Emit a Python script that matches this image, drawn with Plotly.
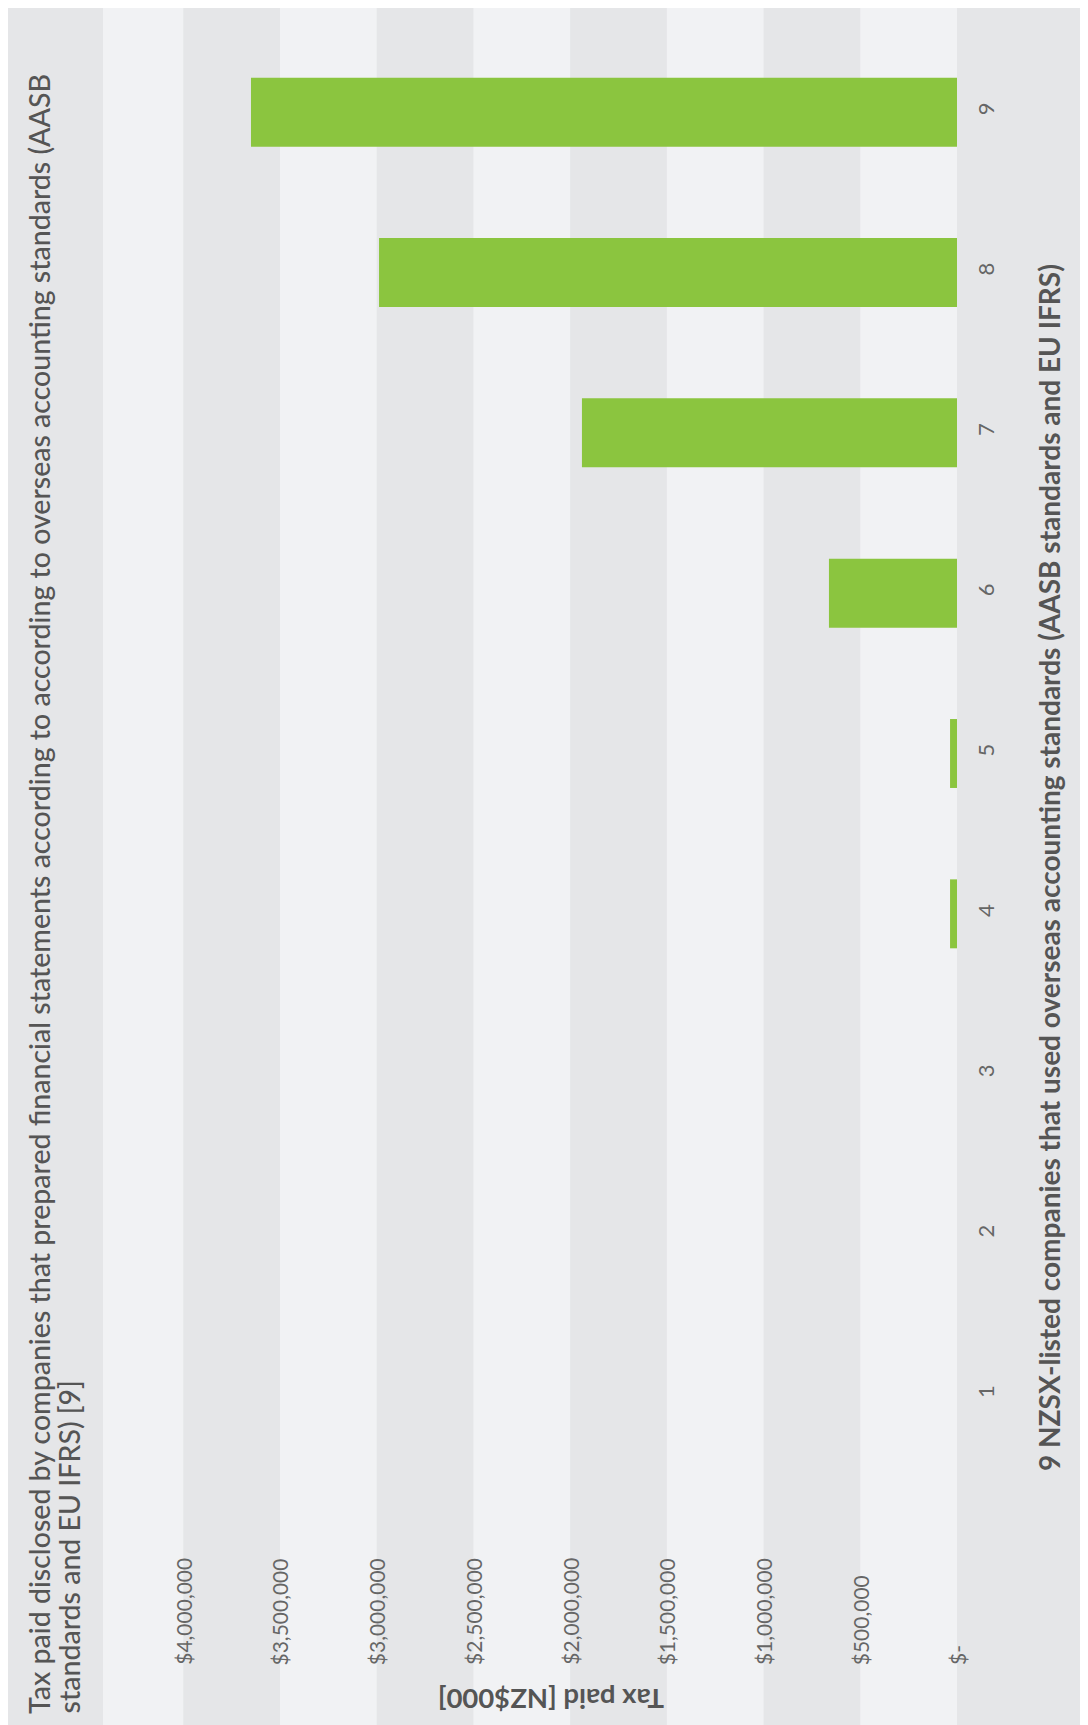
import plotly.graph_objects as go

# ---------------- data ----------------
COMPANIES = ["1", "2", "3", "4", "5", "6", "7", "8", "9"]
TAX_PAID = [0, 0, 0, 36000, 36000, 662000, 1939000, 2988000, 3650000]
TICK_VALUES = [0, 500000, 1000000, 1500000, 2000000, 2500000, 3000000, 3500000, 4000000]
TICK_LABELS = ["$-", "$500,000", "$1,000,000", "$1,500,000", "$2,000,000",
               "$2,500,000", "$3,000,000", "$3,500,000", "$4,000,000"]
X_MAX = 4415000

TITLE_LINE1 = ("Tax paid disclosed by companies that prepared financial statements according to "
               "according to overseas accounting standards (AASB")
TITLE_LINE2 = "standards and EU IFRS) [9]"
CAT_TITLE = "9 NZSX-listed companies that used overseas accounting standards (AASB standards and EU IFRS)"
VAL_TITLE = "Tax paid [NZ$000]"

# ---------------- layout geometry (screen pixels) ----------------
SCREEN_W, SCREEN_H = 1088, 1725
OFF = 8                      # default page body margin
W, H = SCREEN_W - OFF, SCREEN_H - OFF
L, R, T, B = 103, 957, 32, 1475   # plot area edges in screen pixels

def px_x(px):
    return (px - L) / (R - L)

def px_y(py):
    return (B - py) / (B - T)

DARK = "#e5e6e8"
LIGHT = "#f1f2f4"
GREEN = "#8bc53f"
FONT = "Lato"

fig = go.Figure()
fig.add_trace(go.Bar(
    y=COMPANIES, x=TAX_PAID, orientation="h",
    marker=dict(color=GREEN, line=dict(width=0)),
    hoverinfo="skip",
))

shapes = [dict(type="rect", xref="paper", yref="paper",
               x0=px_x(0), x1=px_x(SCREEN_W + 10), y0=px_y(SCREEN_H + 10), y1=px_y(0),
               fillcolor=DARK, line=dict(width=0), layer="below")]
edges = TICK_VALUES + [X_MAX]
for i in range(0, len(edges) - 1, 2):
    shapes.append(dict(type="rect", xref="x", yref="paper",
                       x0=edges[i], x1=edges[i + 1], y0=px_y(SCREEN_H + 10), y1=px_y(0),
                       fillcolor=LIGHT, line=dict(width=0), layer="below"))

annotations = []
for v, lab in zip(TICK_VALUES, TICK_LABELS):
    annotations.append(dict(x=v, xref="x", y=px_y(1667), yref="paper",
                            text=lab, showarrow=False, textangle=-90,
                            xanchor="center", yanchor="bottom",
                            font=dict(family=FONT, size=21, color="#666666")))

title_font = dict(family=FONT, size=28.5, color="#555555", weight=500)
annotations.append(dict(x=px_x(39), xref="paper", y=px_y(1716), yref="paper",
                        text=TITLE_LINE1, showarrow=False, textangle=-90,
                        xanchor="center", yanchor="bottom", font=title_font))
annotations.append(dict(x=px_x(69), xref="paper", y=px_y(1716), yref="paper",
                        text=TITLE_LINE2, showarrow=False, textangle=-90,
                        xanchor="center", yanchor="bottom", font=title_font))
annotations.append(dict(x=px_x(1049), xref="paper", y=px_y(868), yref="paper",
                        text=CAT_TITLE, showarrow=False, textangle=-90,
                        xanchor="center", yanchor="middle",
                        font=dict(family=FONT, size=28, color="#555555", weight=700)))
annotations.append(dict(x=px_x(551), xref="paper", y=px_y(1700), yref="paper",
                        text=VAL_TITLE, showarrow=False, textangle=180,
                        xanchor="center", yanchor="middle",
                        font=dict(family=FONT, size=27.5, color="#555555", weight=700)))

fig.update_layout(
    width=W, height=H,
    margin=dict(l=L - OFF, r=SCREEN_W - R, t=T - OFF, b=SCREEN_H - B, pad=0),
    paper_bgcolor="white", plot_bgcolor="rgba(0,0,0,0)",
    showlegend=False,
    bargap=0.57,
    shapes=shapes,
    annotations=annotations,
    xaxis=dict(range=[X_MAX, 0], showticklabels=False, showgrid=False,
               zeroline=False, showline=False, ticks="", fixedrange=True),
    yaxis=dict(type="category", categoryorder="array", categoryarray=COMPANIES,
               range=[-0.5, 8.5], side="right", tickangle=-90,
               tickfont=dict(family=FONT, size=22, color="#666666"),
               showgrid=False, zeroline=False, showline=False, ticks="",
               automargin=False, ticklabelstandoff=14),
)

fig.write_html("out.html")
